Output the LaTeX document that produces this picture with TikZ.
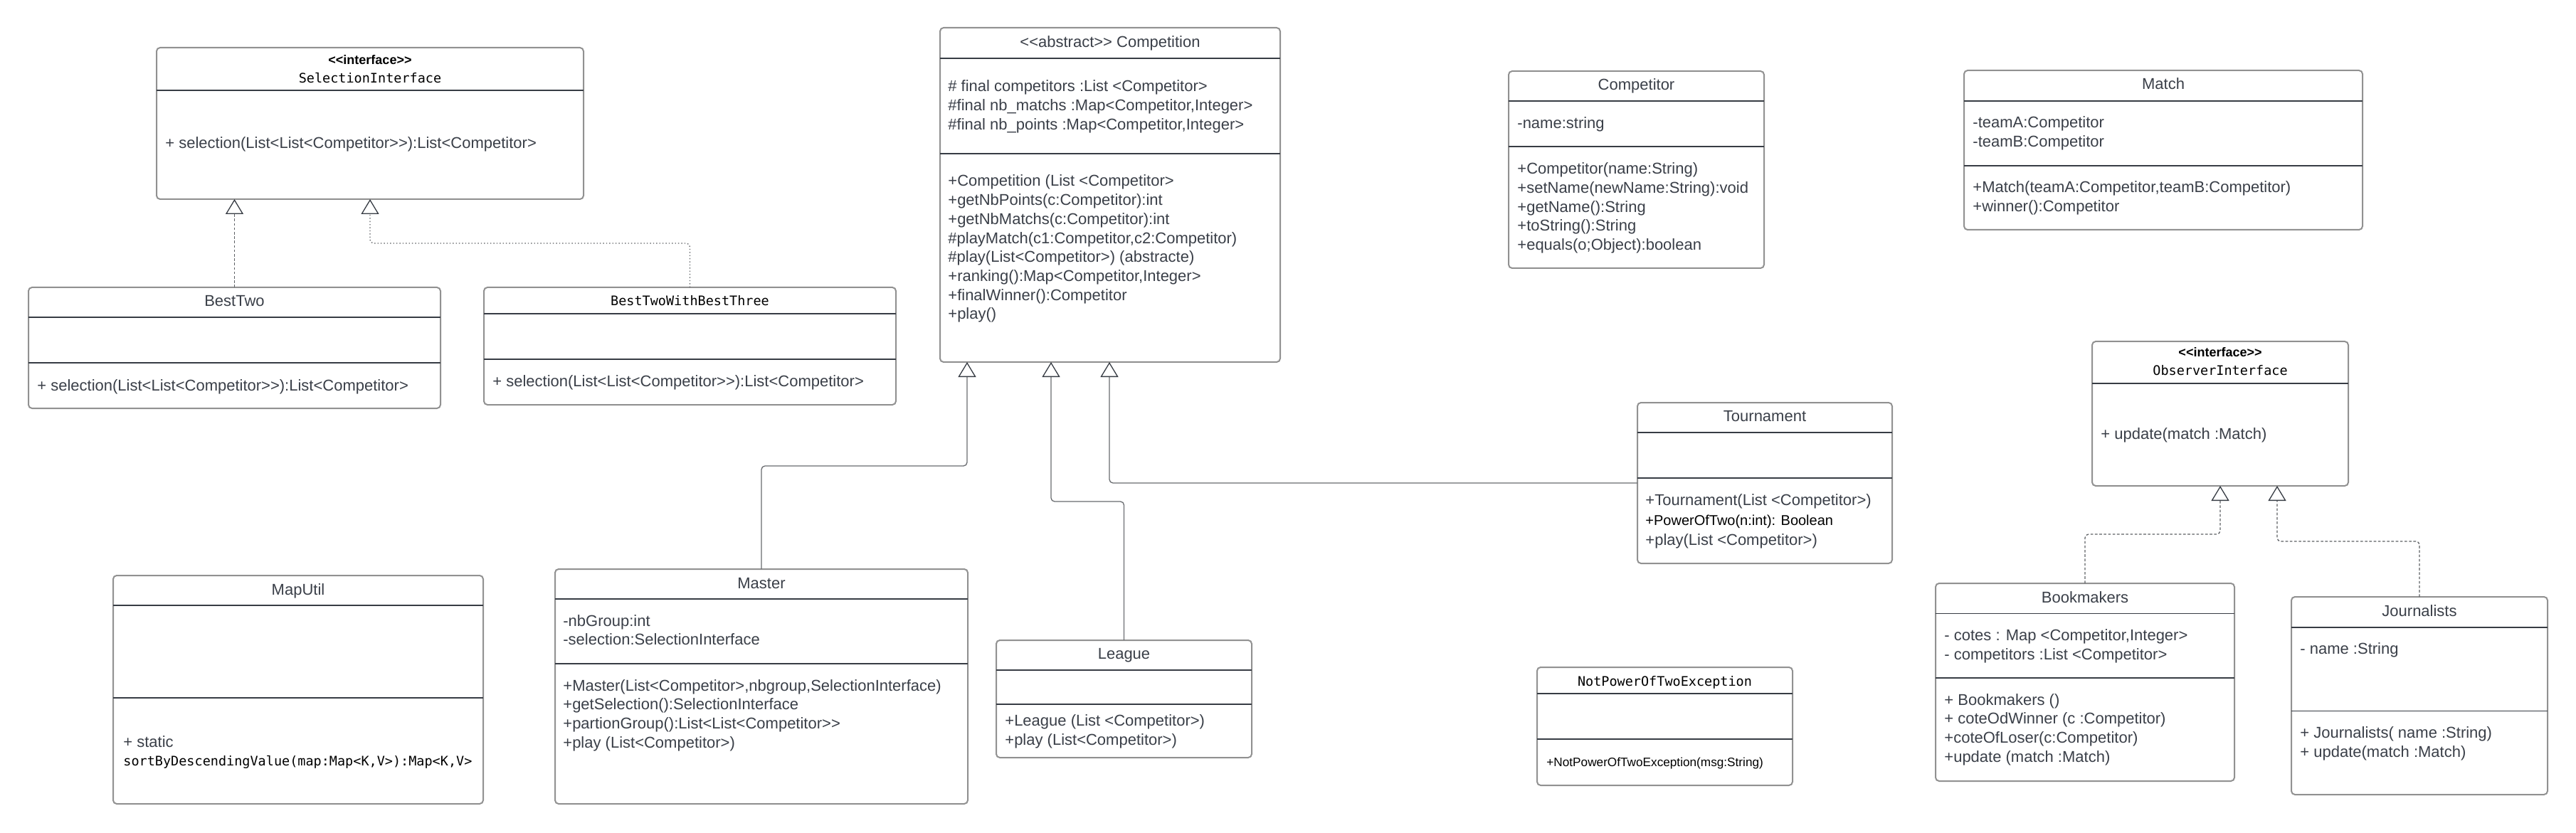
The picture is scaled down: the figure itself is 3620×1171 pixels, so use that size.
\documentclass[tikz,border=0pt]{standalone}
\usepackage{fontspec}
\setmainfont{Liberation Sans}[Ligatures=TeXOff]
\newfontfamily\monof{DejaVu Sans Mono}[Ligatures=TeXOff]
\usetikzlibrary{arrows.meta,fit,calc}
\definecolor{boxgray}{RGB}{145,145,145}
\definecolor{divcol}{RGB}{55,60,68}
\definecolor{txtcol}{RGB}{58,63,72}
\definecolor{concol}{RGB}{105,108,112}
\newcommand{\umldiv}[2]{\draw[div] (#1.west |- 0,#2) -- (#1.east |- 0,#2);}
\newcommand{\umllines}[5]{\foreach \t [count=\i from 0] in {#5} \node[txt] (#1-\i) at (#2, #3+\i*#4) {\t};}
\begin{document}
\begin{tikzpicture}[x=0.5pt,y=-0.5pt,
 box/.style={draw=boxgray, line width=1pt, rounded corners=2.5pt, fill=white, inner sep=0pt, outer sep=0pt},
 div/.style={draw=divcol, line width=0.7pt},
 txt/.style={anchor=base west, inner sep=0pt, text=txtcol, font=\fontsize{11}{13.3}\selectfont},
 ttl/.style={anchor=base, inner sep=0pt, text=txtcol, font=\fontsize{11}{13.3}\selectfont},
 mono/.style={anchor=base, inner sep=0pt, text=black, font=\monof\fontsize{9.25}{11}\selectfont},
 stereo/.style={anchor=base, inner sep=0pt, text=black, font=\bfseries\fontsize{9}{11}\selectfont},
 gen/.style={draw=concol, line width=0.65pt, rounded corners=2.5pt, -{Triangle[open, length=10.5pt, width=12.5pt, line width=0.65pt, color=divcol]}},
 real/.style={gen, draw=concol!90!black, dash pattern=on 1.8pt off 1.3pt},
 realdot/.style={gen, draw=concol!90!black, dash pattern=on 0.7pt off 1.5pt},
]
\fill[white] (0,0) rectangle (3620,1171);
\useasboundingbox (0,0) rectangle (3620,1171);

% SelectionInterface
\node[box, fit={(220,67) (820,280)}] (sel) {};
\umldiv{sel}{127}
\node[stereo] (sel-st) at (520,91) {<<interface>>};
\node[mono] (sel-n) at (520,117) {SelectionInterface};
\node[txt] (sel-m) at (232,209) {+ selection(List<List<Competitor>>):List<Competitor>};

% BestTwo
\node[box, fit={(40,404) (619,574)}] (bt) {};
\umldiv{bt}{446}
\umldiv{bt}{510}
\node[ttl] (bt-n) at (329.5,431) {BestTwo};
\node[txt] (bt-m) at (52,549) {+ selection(List<List<Competitor>>):List<Competitor>};

% BestTwoWithBestThree
\node[box, fit={(680,404) (1259,569)}] (btt) {};
\umldiv{btt}{441}
\umldiv{btt}{505}
\node[mono] (btt-n) at (969.5,430) {BestTwoWithBestThree};
\node[txt] (btt-m) at (692,543.5) {+ selection(List<List<Competitor>>):List<Competitor>};

% Competition
\node[box, fit={(1321,39) (1799,509)}] (comp) {};
\umldiv{comp}{82}
\umldiv{comp}{216}
\node[ttl] (comp-n) at (1560,67) {<<abstract>> Competition};
\umllines{compa}{1332}{129}{26.7}{{\# final competitors :List <Competitor>},{\#final nb\_matchs :Map<Competitor,Integer>},{\#final nb\_points :Map<Competitor,Integer>}}
\umllines{compm}{1332}{262}{26.7}{{+Competition (List <Competitor>},{+getNbPoints(c:Competitor):int},{+getNbMatchs(c:Competitor):int},{\#playMatch(c1:Competitor,c2:Competitor)},{\#play(List<Competitor>) (abstracte)},{+ranking():Map<Competitor,Integer>},{+finalWinner():Competitor},{+play()}}

% Competitor
\node[box, fit={(2120,100) (2479,377)}] (cpt) {};
\umldiv{cpt}{142}
\umldiv{cpt}{206}
\node[ttl] (cpt-n) at (2299.5,127) {Competitor};
\node[txt] (cpt-a) at (2132,181) {-name:string};
\umllines{cptm}{2132}{245}{26.6}{{+Competitor(name:String)},{+setName(newName:String):void},{+getName():String},{+toString():String},{+equals(o;Object):boolean}}

% Match
\node[box, fit={(2760,99) (3320,323)}] (match) {};
\umldiv{match}{142}
\umldiv{match}{233}
\node[ttl] (match-n) at (3040,126) {Match};
\umllines{matcha}{2772}{180}{27}{{-teamA:Competitor},{-teamB:Competitor}}
\umllines{matchm}{2772}{271}{27}{{+Match(teamA:Competitor,teamB:Competitor)},{+winner():Competitor}}

% ObserverInterface
\node[box, fit={(2940,480) (3300,683)}] (obs) {};
\umldiv{obs}{539}
\node[stereo] (obs-st) at (3120,502) {<<interface>>};
\node[mono] (obs-n) at (3120,528) {ObserverInterface};
\node[txt] (obs-m) at (2952,617) {+ update(match :Match)};

% Tournament
\node[box, fit={(2301,566) (2659,792)}] (tour) {};
\umldiv{tour}{608}
\umldiv{tour}{672}
\node[ttl] (tour-n) at (2480,592) {Tournament};
\node[txt] (tour-m1) at (2312,710) {+Tournament(List <Competitor>)};
\node[txt, text=black, font=\fontsize{10}{12}\selectfont] (tour-m2) at (2312,738) {+PowerOfTwo(n:int): Boolean};
\node[txt] (tour-m3) at (2312,766) {+play(List <Competitor>)};

% MapUtil
\node[box, fit={(159,809) (679,1130)}] (map) {};
\umldiv{map}{851}
\umldiv{map}{981}
\node[ttl] (map-n) at (419,836) {MapUtil};
\node[txt] (map-m1) at (173,1050) {+ static};
\node[mono, anchor=base west] (map-m2) at (173,1076) {sortByDescendingValue(map:Map<K,V>):Map<K,V>};

% Master
\node[box, fit={(780,800) (1360,1130)}] (master) {};
\umldiv{master}{842}
\umldiv{master}{933}
\node[ttl] (master-n) at (1070,827) {Master};
\umllines{mastera}{791}{880}{26.7}{{-nbGroup:int},{-selection:SelectionInterface}}
\umllines{masterm}{791}{971}{26.7}{{+Master(List<Competitor>,nbgroup,SelectionInterface)},{+getSelection():SelectionInterface},{+partionGroup():List<List<Competitor>>},{+play (List<Competitor>)}}

% League
\node[box, fit={(1400,900) (1759,1065)}] (league) {};
\umldiv{league}{942}
\umldiv{league}{990}
\node[ttl] (league-n) at (1579.5,926) {League};
\umllines{leaguem}{1412}{1020}{27}{{+League (List <Competitor>)},{+play (List<Competitor>)}}

% NotPowerOfTwoException
\node[box, fit={(2160,938) (2519,1104)}] (npe) {};
\umldiv{npe}{975}
\umldiv{npe}{1039}
\node[mono] (npe-n) at (2339.5,964) {NotPowerOfTwoException};
\node[txt, text=black, font=\fontsize{8.6}{10}\selectfont] (npe-m) at (2173,1077) {+NotPowerOfTwoException(msg:String)};

% Bookmakers
\node[box, fit={(2720,820) (3140,1098)}] (book) {};
\umldiv{book}{862.5}
\umldiv{book}{953}
\node[ttl] (book-n) at (2930,847) {Bookmakers};
\umllines{booka}{2732}{900}{27}{{- cotes : Map <Competitor,Integer>},{- competitors :List <Competitor>}}
\umllines{bookm}{2732}{991}{26.7}{{+ Bookmakers ()},{+ coteOdWinner (c :Competitor)},{+coteOfLoser(c:Competitor)},{+update (match :Match)}}

% Journalists
\node[box, fit={(3220,839) (3580,1117)}] (jour) {};
\umldiv{jour}{882}
\umldiv{jour}{999.5}
\node[ttl] (jour-n) at (3400,866) {Journalists};
\node[txt] (jour-a) at (3232,919.5) {- name :String};
\umllines{jourm}{3232}{1037}{27}{{+ Journalists( name :String)},{+ update(match :Match)}}

% connectors
\draw[real] (bt.north) -- (bt.north |- sel.south);
\draw[realdot] (btt.north) -- ++(0,-62) -| (sel.south);
\draw[gen] (master.north) -- ++(0,-145) -| ($(comp.south west)+(38,0)$);
\draw[gen] (league.north) -- ++(0,-195) -| ($(comp.south west)+(156,0)$);
\draw[gen] (tour.west) -| ($(comp.south west)+(238,0)$);
\draw[real] (book.north) -- ++(0,-69) -| (obs.south);
\draw[real] (jour.north) -- ++(0,-78) -| ($(obs.south)+(80,0)$);
\end{tikzpicture}
\end{document}
